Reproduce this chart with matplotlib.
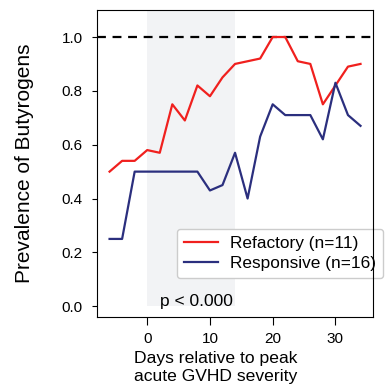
import numpy as np
import matplotlib
matplotlib.use("Agg")
import matplotlib.pyplot as plt

plt.rcParams['font.family'] = ['Liberation Sans', 'DejaVu Sans']

days = [-6, -4, -2, 0, 2, 4, 6, 8, 10, 12, 14, 16, 18, 20, 22, 24, 26, 28, 30, 32, 34]
refractory = [0.50, 0.54, 0.54, 0.58, 0.57, 0.75, 0.69, 0.82, 0.78, 0.85, 0.90,
              0.91, 0.92, 1.00, 1.00, 0.91, 0.90, 0.75, 0.82, 0.89, 0.90]
responsive = [0.25, 0.25, 0.50, 0.50, 0.50, 0.50, 0.50, 0.50, 0.43, 0.45, 0.57,
              0.40, 0.63, 0.75, 0.71, 0.71, 0.71, 0.62, 0.83, 0.71, 0.67]
shade_window = (0, 14)

fig = plt.figure(figsize=(3.85, 3.88), dpi=100)
ax = fig.add_axes([0.252, 0.183, 0.717, 0.791])

ax.fill_between(shade_window, 0, 1.1, color='#f2f3f5', zorder=0, linewidth=0)
ax.axhline(1.0, color='k', linestyle='--', linewidth=1.6, dashes=(4, 3))
ax.plot(days, refractory, color='#f0201e', linewidth=1.6, label='Refactory (n=11)')
ax.plot(days, responsive, color='#2b2f7e', linewidth=1.6, label='Responsive (n=16)')

ax.text(2, 0.0, 'p < 0.000', fontsize=12.5, va='baseline', ha='left')

ax.set_xlim(-8, 36)
ax.set_ylim(-0.04, 1.1)
ax.set_xticks([0, 10, 20, 30])
ax.set_yticks([0.0, 0.2, 0.4, 0.6, 0.8, 1.0])
ax.tick_params(labelsize=11)
ax.tick_params(axis='x', length=5.8, pad=5)
ax.tick_params(axis='y', length=3.8, pad=6.5)
ax.set_ylabel('Prevalence of Butyrogens', fontsize=15)
ax.yaxis.set_label_coords(-0.228, 0.5)
ax.set_xlabel('Days relative to peak\nacute GVHD severity', fontsize=12.6)
ax.xaxis.set_label_coords(0.431, -0.112)

leg = ax.legend(loc='lower right', bbox_to_anchor=(1.036, 0.127), borderaxespad=0,
                fontsize=12.4, handlelength=2.0, handletextpad=0.7,
                labelspacing=0.3, framealpha=1.0)
leg.get_frame().set_edgecolor('#cccccc')
leg.set_zorder(2.4)

fig.savefig('out.png', dpi=100)
